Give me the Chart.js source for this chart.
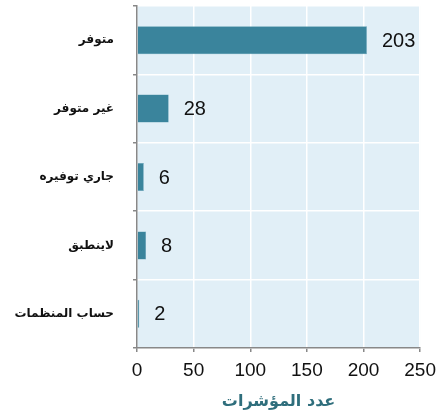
<!DOCTYPE html>
<html><head><meta charset="utf-8">
<script src="https://cdn.jsdelivr.net/npm/chart.js@4/dist/chart.umd.min.js"></script>
<style>html,body{margin:0;padding:0;background:#fff}#w{width:443px;height:415px}</style>
</head><body><div id="w"><canvas id="c"></canvas></div>
<script>
const categories = ["متوفر", "غير متوفر", "جاري توفيره", "لاينطبق", "حساب المنظمات"];
const values = [203, 28, 6, 8, 2];
const xTicks = [0, 50, 100, 150, 200, 250];
const xTitle = "عدد المؤشرات";

const bgPlugin = {
  id: 'bg',
  beforeDraw(chart) {
    const a = chart.chartArea, ctx = chart.ctx;
    ctx.save(); ctx.fillStyle = '#e1eff7';
    ctx.fillRect(a.left, a.top, a.right - a.left, a.bottom - a.top);
    ctx.restore();
  }
};
const labelPlugin = {
  id: 'lbl',
  afterDatasetsDraw(chart) {
    const ctx = chart.ctx, meta = chart.getDatasetMeta(0);
    ctx.save();
    ctx.font = '20px "Liberation Sans", Arial, sans-serif';
    ctx.fillStyle = '#111'; ctx.textAlign = 'left'; ctx.textBaseline = 'middle';
    meta.data.forEach((b, i) => { ctx.fillText(String(values[i]), b.x + 15, b.y + 1); });
    ctx.restore();
  }
};
new Chart(document.getElementById('c'), {
  type: 'bar',
  data: { labels: categories, datasets: [{ data: values, backgroundColor: '#3a849c', borderColor: '#5b9cb1', borderWidth: 0.5, barPercentage: 0.41, categoryPercentage: 1 }] },
  options: {
    indexAxis: 'y', responsive: true, maintainAspectRatio: false, animation: false,
    layout: { padding: { top: 6, right: 22, left: 0, bottom: 4 } },
    plugins: { legend: { display: false }, tooltip: { enabled: false } },
    scales: {
      x: {
        min: 0, max: 250,
        afterBuildTicks(s) { s.ticks = xTicks.map(v => ({ value: v })); },
        afterFit(s) { s.height = 63; },
        grid: { color: '#ffffff', lineWidth: 1.5, drawTicks: true, tickLength: 4, tickColor: '#888' },
        border: { color: '#888', width: 1.5 },
        ticks: { color: '#111', padding: 7, font: { size: 19, family: '"Liberation Sans", Arial, sans-serif' } },
        title: { display: true, text: xTitle, color: '#2f6e7c', padding: { top: 0, bottom: 0 }, font: { size: 16, weight: 'bold', family: '"DejaVu Sans", sans-serif' } }
      },
      y: {
        afterFit(s) { s.width = 137; s.paddingTop = 0; s.paddingBottom = 0; },
        grid: { color: '#ffffff', lineWidth: 1.5, offset: true, drawTicks: true, tickLength: 4, tickColor: '#888' },
        border: { color: '#888', width: 1.5 },
        ticks: { color: '#111', padding: 19, font: { size: 12, weight: 'bold', family: '"DejaVu Sans", sans-serif' } }
      }
    }
  },
  plugins: [bgPlugin, labelPlugin]
});
</script></body></html>
